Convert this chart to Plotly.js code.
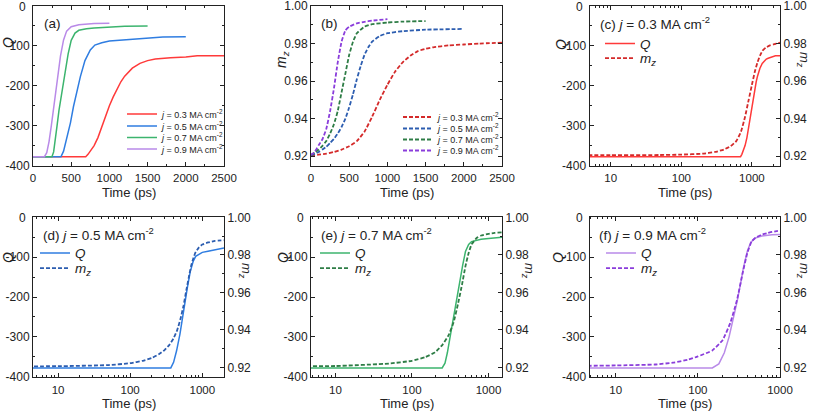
<!DOCTYPE html>
<html><head><meta charset="utf-8">
<script src="https://cdn.plot.ly/plotly-3.0.1.min.js"></script>
<style>html,body{margin:0;padding:0;background:#fff}#chart{width:814px;height:411px}</style>
</head><body><div id="chart"></div>
<script>
// ---------- data ----------
const currentLabels = ['0.3', '0.5', '0.7', '0.9'];

// topological charge Q vs time (ps)
const tQ03 = [1, 690, 720, 760, 800, 850, 900, 950, 1000, 1050, 1100, 1150, 1200, 1300, 1400, 1500, 1600, 1700, 1800, 2000, 2100, 2150, 2500];
const Q03  = [-378, -378, -372, -362, -350, -330, -302, -275, -250, -228, -207, -190, -176, -156, -144, -137, -133, -131, -130, -128, -127, -125, -125];
const tQ05 = [1, 366, 400, 440, 490, 530, 575, 620, 680, 750, 810, 900, 1000, 1200, 1500, 1700, 2000];
const Q05  = [-378, -378, -364, -335, -293, -252, -210, -177, -137, -110, -98, -92, -88, -85, -81, -78, -77];
const tQ07 = [1, 248, 270, 290, 315, 340, 380, 420, 460, 500, 550, 600, 700, 800, 1000, 1200, 1500];
const Q07  = [-378, -378, -366, -340, -300, -262, -212, -165, -120, -86, -68, -61, -57, -55, -53, -51, -50];
const tQ09 = [1, 150, 180, 210, 240, 270, 300, 330, 360, 400, 440, 500, 600, 800, 1000];
const Q09  = [-378, -378, -368, -340, -300, -255, -212, -168, -125, -85, -63, -52, -47, -44, -43];

// magnetization m_z vs time (ps)
const tM03 = [1, 10, 50, 100, 200, 300, 400, 500, 600, 700, 800, 900, 1000, 1100, 1200, 1300, 1400, 1500, 1600, 1800, 2000, 2200, 2500];
const M03  = [0.9205, 0.9205, 0.9206, 0.9208, 0.9213, 0.9222, 0.9235, 0.9253, 0.928, 0.933, 0.941, 0.950, 0.958, 0.965, 0.970, 0.9735, 0.976, 0.9772, 0.978, 0.979, 0.9795, 0.980, 0.9805];
const tM05 = [1, 10, 50, 100, 150, 200, 250, 300, 350, 400, 450, 500, 550, 600, 650, 700, 750, 800, 900, 1000, 1200, 1500, 2000];
const M05  = [0.9205, 0.9206, 0.9212, 0.9222, 0.9235, 0.925, 0.927, 0.9292, 0.932, 0.9355, 0.940, 0.946, 0.953, 0.961, 0.968, 0.974, 0.978, 0.981, 0.984, 0.9855, 0.9866, 0.9874, 0.9878];
const tM07 = [1, 10, 50, 100, 150, 200, 250, 300, 350, 400, 450, 500, 550, 600, 700, 800, 1000, 1200, 1500];
const M07  = [0.9205, 0.9207, 0.922, 0.9235, 0.9255, 0.928, 0.932, 0.937, 0.944, 0.954, 0.964, 0.974, 0.981, 0.9855, 0.989, 0.9903, 0.9912, 0.9917, 0.992];
const tM09 = [1, 10, 30, 50, 75, 100, 150, 200, 250, 300, 350, 400, 450, 500, 600, 700, 800, 1000];
const M09  = [0.9205, 0.921, 0.9215, 0.9225, 0.924, 0.9258, 0.929, 0.9345, 0.944, 0.956, 0.970, 0.981, 0.987, 0.989, 0.9908, 0.9916, 0.9922, 0.993];

// ticks
const linTimeTicks = [0, 500, 1000, 1500, 2000, 2500];
const linTimeText  = ['0', '500', '1000', '1500', '2000', '2500'];
const logTimeTicks = [10, 100, 1000];
const logTimeText  = ['10', '100', '1000'];
const logMinorTicks = [2,3,4,5,6,7,8,9,20,30,40,50,60,70,80,90,200,300,400,500,600,700,800,900,2000,3000];
const qTicks = [0, -100, -200, -300, -400];
const qTickText = ['0', '-100', '-200', '-300', '-400'];
const mzTicks = [0.92, 0.94, 0.96, 0.98, 1.00];
const mzTickText = ['0.92', '0.94', '0.96', '0.98', '1.00'];

// ---------- styling ----------
const FONT = 'Liberation Sans, Arial, sans-serif';
const W = 814, H = 411;
const fx = p => p / W, fy = p => 1 - p / H;
const qColors  = ['#ff3a3a', '#2f7de1', '#3cb46e', '#b98ae8'];
const mzColors = ['#d42a2a', '#2c5db0', '#2e7d46', '#8a3ddb'];
const DASH = '4px,2px';

const tQ = [tQ03, tQ05, tQ07, tQ09], Qs = [Q03, Q05, Q07, Q09];
const tM = [tM03, tM05, tM07, tM09], Ms = [M03, M05, M07, M09];
const jName = c => '<i>j</i> = ' + c + ' MA cm<sup>-2</sup>';

const traces = [];
// (a) Q vs linear time
for (let i = 0; i < 4; i++) {
  traces.push({x: tQ[i], y: Qs[i], xaxis: 'x', yaxis: 'y', mode: 'lines', name: jName(currentLabels[i]),
    line: {color: qColors[i], width: 1.5}, legend: i === 0 ? 'legend' : 'legend' + (i + 1)});
}
// (b) mz vs linear time
for (let i = 0; i < 4; i++) {
  traces.push({x: tM[i], y: Ms[i], xaxis: 'x2', yaxis: 'y2', mode: 'lines', name: jName(currentLabels[i]),
    line: {color: mzColors[i], width: 1.8, dash: DASH, shape: 'spline', smoothing: 0.4}, legend: 'legend' + (i + 5)});
}
// (c)-(f) log time, Q and mz
for (let i = 0; i < 4; i++) {
  const xa = 'x' + (i + 3), yq = 'y' + (2 * i + 3), ym = 'y' + (2 * i + 4);
  traces.push({x: tQ[i], y: Qs[i], xaxis: xa, yaxis: yq, mode: 'lines', name: '<i>Q</i>',
    line: {color: qColors[i], width: 1.5}, legend: 'legend' + (9 + 2 * i)});
  traces.push({x: tM[i], y: Ms[i], xaxis: xa, yaxis: ym, mode: 'lines', name: '<i>m<sub>z</sub></i>',
    line: {color: mzColors[i], width: 1.8, dash: DASH, shape: 'spline', smoothing: 0.4}, legend: 'legend' + (10 + 2 * i)});
}

function axis(extra) {
  return Object.assign({
    showline: true, linecolor: '#222', linewidth: 1, mirror: 'ticks',
    ticks: 'inside', ticklen: 4, tickwidth: 1, tickcolor: '#222',
    showgrid: false, zeroline: false, fixedrange: true,
    tickfont: {family: FONT, size: 12, color: '#222'}
  }, extra);
}
const minor = d => ({ticks: 'inside', ticklen: 2, tickwidth: 1, tickcolor: '#222', showgrid: false, dtick: d});
const xTickFont = {family: FONT, size: 11.5, color: '#222'};

const colA = [fx(33), fx(224)], colB = [fx(311), fx(502)], colC = [fx(589.5), fx(780)];
const rowT = [fy(165.5), fy(6)], rowB = [fy(376.7), fy(217.3)];

function linX(dom, anchor) {
  return axis({domain: dom, anchor: anchor, range: [0, 2500], tickmode: 'array', tickvals: linTimeTicks, ticktext: linTimeText,
    minor: minor(250), ticklabelstandoff: 2, tickfont: xTickFont});
}
function logX(dom, anchor, lo, hi) {
  return axis({domain: dom, anchor: anchor, type: 'log', range: [Math.log10(lo), Math.log10(hi)],
    tickmode: 'array', tickvals: logTimeTicks, ticktext: logTimeText, ticklabelstandoff: 2, tickfont: xTickFont,
    minor: {ticks: 'inside', ticklen: 2, tickwidth: 1, tickcolor: '#222', showgrid: false, tickmode: 'array', tickvals: logMinorTicks}});
}
// the top "0" label of each Q axis is written as an annotation below (Plotly leaves it blank here)
function qY(dom, anchor, mirror) {
  return axis({domain: dom, anchor: anchor, range: [-400, 0], tickmode: 'array',
    tickvals: qTicks.slice(1), ticktext: qTickText.slice(1),
    minor: Object.assign(minor(50), {tick0: 0}), mirror: mirror, ticklabeloverflow: 'allow'});
}
function mzY(dom, anchor, extra) {
  return axis(Object.assign({domain: dom, anchor: anchor, range: [0.915, 1.00002], tickmode: 'array', tickvals: mzTicks, ticktext: mzTickText,
    minor: Object.assign(minor(0.01), {tick0: 0.92}), ticklabeloverflow: 'allow'}, extra || {}));
}

const layout = {
  width: W, height: H, margin: {l: 0, r: 0, t: 0, b: 0},
  paper_bgcolor: '#fff', plot_bgcolor: '#fff',
  font: {family: FONT, color: '#222'},
  xaxis: linX(colA, 'y'), yaxis: qY(rowT, 'x', 'ticks'),
  xaxis2: linX(colB, 'y2'), yaxis2: mzY(rowT, 'x2', {mirror: 'ticks'}),
  xaxis3: logX(colC, 'y3', 5, 2500), yaxis3: qY(rowT, 'x3', false),
  yaxis4: mzY(rowT, 'x3', {overlaying: 'y3', side: 'right', mirror: false}),
  xaxis4: logX(colA, 'y5', 4.5, 2000), yaxis5: qY(rowB, 'x4', false),
  yaxis6: mzY(rowB, 'x4', {overlaying: 'y5', side: 'right', mirror: false}),
  xaxis5: logX(colB, 'y7', 4.8, 1500), yaxis7: qY(rowB, 'x5', false),
  yaxis8: mzY(rowB, 'x5', {overlaying: 'y7', side: 'right', mirror: false}),
  xaxis6: logX(colC, 'y9', 4.8, 1000), yaxis9: qY(rowB, 'x6', false),
  yaxis10: mzY(rowB, 'x6', {overlaying: 'y9', side: 'right', mirror: false}),
  showlegend: true,
  annotations: []
};

// legends: one per entry so that row spacing follows the reference
function leg(xpx, ypx, size) {
  return {x: fx(xpx), y: fy(ypx), xanchor: 'left', yanchor: 'middle', bgcolor: 'rgba(0,0,0,0)', borderwidth: 0,
    font: {family: FONT, size: size, color: '#222'}, tracegroupgap: 0, itemclick: false, itemdoubleclick: false};
}
const legA = [114, 126, 137.5, 149], legB = [117, 128.5, 139.5, 150.5];
for (let i = 0; i < 4; i++) {
  layout[i === 0 ? 'legend' : 'legend' + (i + 1)] = leg(122, legA[i], 9);
  layout['legend' + (i + 5)] = leg(398, legB[i], 9);
}
const legPanelX = [600, 35, 315, 601];
const legPanelY = [[43.7, 58.3], [253.3, 268.3], [253.3, 268.3], [253.3, 268.3]];
for (let i = 0; i < 4; i++) {
  layout['legend' + (9 + 2 * i)] = leg(legPanelX[i], legPanelY[i][0], 13.5);
  layout['legend' + (10 + 2 * i)] = leg(legPanelX[i], legPanelY[i][1], 13.5);
}

function ann(text, xpx, ypx, opts) {
  layout.annotations.push(Object.assign({text: text, x: fx(xpx), y: fy(ypx), xref: 'paper', yref: 'paper',
    showarrow: false, xanchor: 'center', yanchor: 'middle', font: {family: FONT, size: 13, color: '#222'}}, opts || {}));
}
// panel labels
const panelLabels = ['(a)', '(b)',
  '(c) <i>j</i> = 0.3 MA cm<sup>-2</sup>', '(d) <i>j</i> = 0.5 MA cm<sup>-2</sup>',
  '(e) <i>j</i> = 0.7 MA cm<sup>-2</sup>', '(f) <i>j</i> = 0.9 MA cm<sup>-2</sup>'];
const panelPos = [[42, 23], [319, 23], [598, 23], [41, 234], [319, 234], [597, 234]];
panelLabels.forEach((t, i) => ann(t, panelPos[i][0], panelPos[i][1], {xanchor: 'left', font: {family: FONT, size: 13.5, color: '#222'}}));
// x titles
[[128.5, 192], [406.5, 192], [684.7, 192], [128.5, 403], [406.5, 403], [684.7, 403]].forEach(p =>
  ann('Time (ps)', p[0], p[1], {font: {family: FONT, size: 13, color: '#222'}}));
// y titles
const tfont = {family: FONT, size: 14, color: '#222'};
[[8, 43], [561, 45], [8, 258], [283, 258], [558, 258]].forEach(p => ann('<i>Q</i>', p[0], p[1], {textangle: -90, font: tfont}));
ann('<i>m<sub>z</sub></i>', 282, 60, {textangle: -90, font: tfont});
[[804, 60], [246, 271], [529, 271], [804, 271]].forEach(p => ann('<i>m<sub>z</sub></i>', p[0], p[1], {textangle: 90, font: {family: FONT, size: 13, color: '#222'}}));
// top "0" labels of the Q axes
[[28, 6.5], [584.5, 6.5], [28, 217.8], [306, 217.8], [584.5, 217.8]].forEach(p =>
  ann(qTickText[0], p[0], p[1], {xanchor: 'right', font: {family: FONT, size: 12, color: '#222'}}));

Plotly.newPlot('chart', traces, layout, {displayModeBar: false, staticPlot: true});
</script>
</body></html>
